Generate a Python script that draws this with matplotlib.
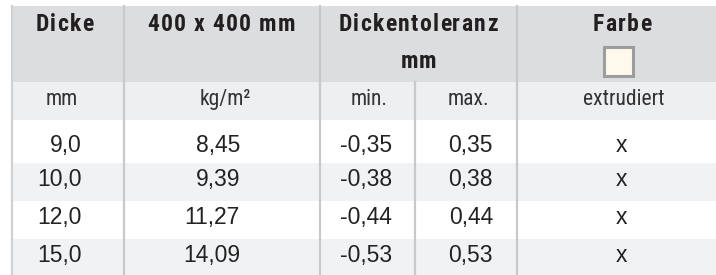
import matplotlib
matplotlib.use("Agg")
from matplotlib import pyplot as plt
from matplotlib.patches import Rectangle
from matplotlib.font_manager import FontProperties

# table data
dicke = [9.0, 10.0, 12.0, 15.0]
gewicht = [8.45, 9.39, 11.27, 14.09]
tol_min = [-0.35, -0.38, -0.44, -0.53]
tol_max = [0.35, 0.38, 0.44, 0.53]
extrudiert = ['x', 'x', 'x', 'x']

header = ['Dicke', '400 x 400 mm', 'Dickentoleranz', 'Farbe']
units = ['mm', 'kg/m²', 'min.', 'max.', 'extrudiert']


def de(v, n):
    return '{0:.{1}f}'.format(v, n).replace('.', ',')


W, H = 716, 275
fig = plt.figure(figsize=(W / 100, H / 100), dpi=100)
ax = fig.add_axes([0, 0, 1, 1])
ax.set_xlim(0, W)
ax.set_ylim(H, 0)
ax.axis('off')
renderer = fig.canvas.get_renderer()

head_prop = FontProperties(family=['Roboto Condensed', 'DejaVu Sans'], weight='bold', size=17)
TRACK = 1.3


def width(s):
    return renderer.get_text_width_height_descent(s, head_prop, ismath=False)[0]


def spaced_text(xc, y, s, color):
    # headline with letter spacing, drawn char by char
    pos = []
    extra = 0.0
    for k, c in enumerate(s):
        if k > 0:
            extra += TRACK if (c != ' ' and s[k - 1] != ' ') else 1.2
        p = 0.0 if k == 0 else width(s[:k] + c) - width(c)
        pos.append(p + extra)
    total = width(s) + extra
    x0 = xc - total / 2
    for c, p in zip(s, pos):
        if c != ' ':
            ax.text(x0 + p, y, c, ha='left', va='baseline', fontproperties=head_prop, color=color)


cols = [11, 124, 320, 415, 517, 716]
rows = [6, 82, 120, 163, 201, 239, 277]
baselines = [152, 186, 224, 262]

hdr_bg = '#dcdddf'
sub_bg = '#eeeff1'
alt_bg = '#f1f2f4'
line_c = '#c8c9cb'
txt = '#231f20'

sub_font = dict(family=['Roboto Condensed', 'DejaVu Sans'], fontweight='normal', fontsize=15.5, color='#333333')
data_font = dict(family=['Liberation Sans', 'DejaVu Sans'], fontsize=16.5, color='#222222')

# backgrounds
ax.add_patch(Rectangle((cols[0], rows[0]), W - cols[0], rows[1] - rows[0], color=hdr_bg, lw=0))
ax.add_patch(Rectangle((cols[0], rows[1]), W - cols[0], rows[2] - rows[1], color=sub_bg, lw=0))
for i in range(len(dicke)):
    if i % 2 == 1:
        ax.add_patch(Rectangle((cols[0], rows[i + 2]), W - cols[0], rows[i + 3] - rows[i + 2], color=alt_bg, lw=0))

# grid lines
ax.plot([cols[0] + 0.5, cols[0] + 0.5], [rows[0], H], color='#d0d1d3', lw=1.6)
for x in [cols[1], cols[2], cols[4]]:
    ax.plot([x, x], [rows[0], H], color=line_c, lw=1.6)
ax.plot([cols[3], cols[3]], [rows[1], H], color=line_c, lw=1.6)

# header
spaced_text(64.5, 31, header[0], txt)
spaced_text(221.5, 31, header[1], txt)
spaced_text(418, 31, header[2], txt)
spaced_text(418.5, 68, 'mm', txt)
spaced_text(622, 31, header[3], txt)
ax.add_patch(Rectangle((604, 47), 29, 29, facecolor='#fff8ec', edgecolor='#9c9d9f', lw=2.2))

# units row
unit_x = [62, 225, 369, 468, 624]
for x, u in zip(unit_x, units):
    ax.text(x, 105, u, ha='center', va='baseline', **sub_font)

# data rows
for i in range(len(dicke)):
    y = baselines[i]
    ax.text(82, y, de(dicke[i], 1), ha='right', va='baseline', **data_font)
    ax.text(240, y, de(gewicht[i], 2), ha='right', va='baseline', **data_font)
    ax.text(392, y, de(tol_min[i], 2), ha='right', va='baseline', **data_font)
    ax.text(493, y, de(tol_max[i], 2), ha='right', va='baseline', **data_font)
    ax.text(621, y, extrudiert[i], ha='center', va='baseline', **data_font)

fig.savefig('out.png', dpi=100, facecolor='white')
